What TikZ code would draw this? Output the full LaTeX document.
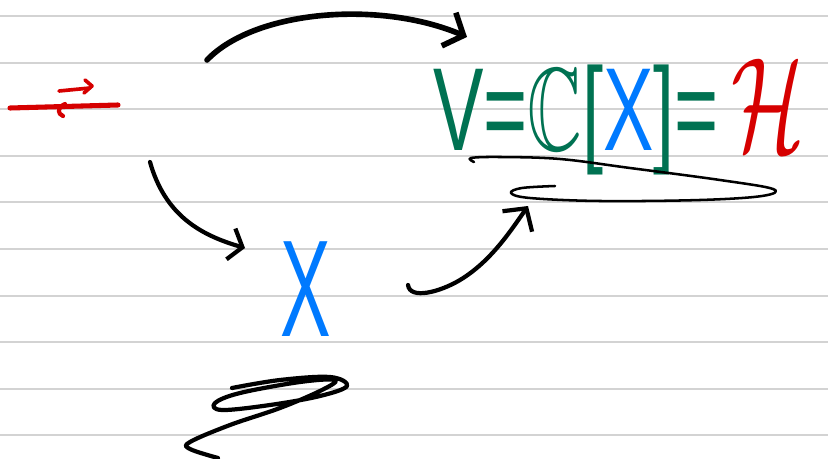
\documentclass[tikz,border=0pt]{standalone}
\usepackage{fontspec}
\setmainfont{Liberation Sans}
\usepackage{amssymb}
\usepackage{graphicx}
\usetikzlibrary{arrows.meta,positioning}
\definecolor{rulegray}{RGB}{211,211,211}
\definecolor{inkgreen}{RGB}{0,114,82}
\definecolor{inkblue}{RGB}{0,122,255}
\definecolor{inkred}{RGB}{214,0,0}

\begin{document}
\begin{tikzpicture}[
x=0.025cm, y=-0.025cm,
rule/.style={draw=rulegray, line width=1.4pt},
pen/.style={draw=black, line width=3pt, line cap=round, line join=round},
thinpen/.style={draw=black, line width=1.8pt, line cap=round, line join=round},
redpen/.style={draw=inkred, line width=3.6pt, line cap=round, line join=round},
arrow/.style={pen, -{Straight Barb[length=4mm, width=9mm]}},
ink/.style={inner sep=0pt, font=\fontsize{84}{84}\selectfont}
]
\useasboundingbox[fill=white] (0,0) rectangle (828,459);

\foreach \k in {0,...,9} {
\draw[rule] (0,16+46.6*\k) -- (828,16+46.6*\k);
}

% red mark on the left
\coordinate (src) at (64,107);
\draw[redpen] (10,108) -- (118,105);
\draw[redpen, line width=3pt] (65,104) .. controls (56,108) and (58,114) .. (63,116);
\draw[redpen, line width=2.6pt] (59,91) -- (90,88);
\draw[redpen, line width=2.6pt] (85,80) -- (92,86) -- (84,93);

% formula and generator
\node[ink, anchor=base west, text=inkgreen] (space) at (433,151)
{\scalebox{0.64}[1]{V=$\mathbb{C}$[\textcolor{inkblue}{X}]=\,\textcolor{inkred}{\fontsize{10}{10}\selectfont\scalebox{9.5}{$\mathcal{H}$}}}};
\node[inner sep=0pt, text=inkblue, font=\fontsize{98}{98}\selectfont] (gen) at (306,289)
{\scalebox{0.55}[1]{X}};

\coordinate (topstart) at (207,60);
\coordinate (toptip) at (467,37);
\coordinate (downstart) at (150,162);
\coordinate (downtip) at (245,248);
\coordinate (upstart) at (408,285);
\coordinate (uptip) at (528,206);

\draw[arrow, line width=4pt] (topstart) .. controls (255,10) and (380,0) .. (toptip);
\draw[arrow, -{Straight Barb[length=3mm, width=8mm]}] (downstart) .. controls (165,215) and (200,235) .. (downtip);
\draw[arrow] (upstart) .. controls (410,300) and (440,292) .. (460,280)
  .. controls (490,262) and (510,232) .. (uptip);

% underline under the formula
\draw[thinpen] plot[smooth, tension=0.6] coordinates {(474,162) (471,158) (500,157) (560,159)
  (630,168) (720,180) (773,189) (762,196) (700,200) (600,201) (530,198) (511,193) (522,188) (555,186)};

% scribble at the bottom
\draw[pen] plot[smooth, tension=0.6] coordinates {(232,388) (280,380) (330,377) (347,386)
  (320,396) (270,405) (222,410) (215,403) (240,393) (300,382) (335,380) (322,390)
  (280,408) (230,425) (190,442) (190,449) (218,458)};

\end{tikzpicture}
\end{document}
